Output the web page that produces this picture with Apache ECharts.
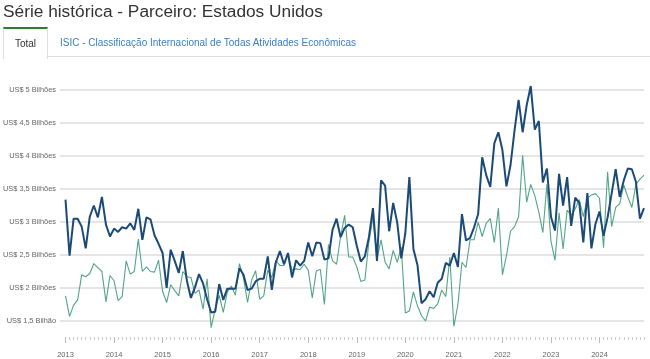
<!DOCTYPE html>
<html>
<head>
<meta charset="utf-8">
<script src="https://cdn.jsdelivr.net/npm/echarts@6/dist/echarts.min.js"></script>
<style>
  html, body { margin: 0; padding: 0; background: #fff; }
  body { width: 650px; height: 359px; overflow: hidden; position: relative; font-family: "Liberation Sans", Arial, sans-serif; }
  #chart { position: absolute; left: 0; top: 0; width: 650px; height: 359px; }
  #title { position: absolute; left: 3px; top: 0px; font-size: 17.3px; line-height: 22px; color: #333; white-space: nowrap; }
  #tabline { position: absolute; left: 3px; right: 0; top: 56px; height: 0; border-top: 1px solid #ddd; }
  #tab1 { position: absolute; left: 3px; top: 27px; width: 43px; border-top: 2px solid #2e7d32; border-left: 1px solid #ddd; border-right: 1px solid #ddd; background: #fff; z-index: 2; font-size: 10px; color: #333; text-align: center; line-height: 30px; height: 30px; }
  #tab2 { position: absolute; left: 60px; top: 29px; font-size: 10px; line-height: 28px; color: #3a7fc1; white-space: nowrap; }
</style>
</head>
<body>
<div id="chart"></div>
<div id="title">Série histórica - Parceiro: Estados Unidos</div>
<div id="tabline"></div>
<div id="tab1">Total</div>
<div id="tab2">ISIC - Classificação Internacional de Todas Atividades Econômicas</div>
<script>
// Monthly values, Jan 2013 .. Dec 2024 (US$ bilhões)
const months = [];
for (let y = 2013; y <= 2024; y++) for (let m = 1; m <= 12; m++) months.push(y + '-' + String(m).padStart(2, '0'));

const importacoes = [
  3.34, 2.49, 3.05, 3.05, 2.93, 2.60, 3.08, 3.25, 3.07, 3.38, 2.96, 2.78,
  2.90, 2.85, 2.92, 2.90, 2.98, 2.88, 3.20, 2.73, 3.07, 3.04, 2.80, 2.67,
  2.53, 2.00, 2.58, 2.41, 2.23, 2.56, 2.11, 1.85, 2.01, 2.21, 2.07, 1.83,
  1.63, 1.64, 2.06, 1.82, 1.99, 1.99, 1.99, 2.30, 2.20, 1.97, 1.99, 2.10,
  2.14, 2.14, 2.48, 1.97, 2.39, 2.56, 2.36, 2.53, 2.16, 2.42, 2.34, 2.41,
  2.69, 2.48, 2.69, 2.68, 2.43, 2.45, 2.88, 3.05, 2.77, 2.91, 2.96, 2.92,
  2.64, 2.40, 2.48, 2.77, 3.21, 2.41, 3.63, 3.55, 2.86, 3.29, 2.99, 2.45,
  2.83, 3.68, 2.59, 2.35, 1.77, 1.83, 1.95, 1.86, 2.08, 2.14, 2.38, 2.34,
  2.53, 2.32, 3.12, 2.72, 2.76, 2.92, 3.12, 3.98, 3.71, 3.53, 4.19, 4.36,
  4.09, 3.54, 3.86, 4.39, 4.85, 4.36, 4.77, 5.06, 4.40, 4.53, 3.60, 3.81,
  3.08, 2.87, 3.73, 3.25, 3.68, 2.94, 3.37, 3.29, 2.69, 3.44, 2.60, 2.97,
  3.16, 2.79, 3.07, 3.43, 3.80, 3.38, 3.63, 3.81, 3.80, 3.61, 3.05, 3.21
];
const exportacoes = [
  1.88, 1.57, 1.74, 1.82, 2.20, 2.17, 2.22, 2.37, 2.31, 2.25, 1.79, 2.19,
  2.11, 1.81, 1.87, 2.41, 2.21, 2.25, 2.74, 2.25, 2.32, 2.25, 2.24, 2.42,
  1.95, 1.78, 2.05, 1.96, 1.88, 2.25, 2.17, 2.16, 1.92, 1.97, 1.68, 2.14,
  1.40, 1.68, 1.89, 1.63, 1.94, 2.03, 1.89, 2.37, 2.15, 1.78, 2.12, 2.26,
  1.83, 1.88, 2.27, 2.16, 2.42, 2.34, 2.34, 2.51, 2.27, 2.29, 2.28, 2.36,
  2.27, 1.85, 2.26, 2.28, 1.75, 2.66, 2.41, 2.36, 2.78, 3.10, 2.47, 2.47,
  2.32, 2.10, 2.12, 2.70, 3.07, 2.44, 2.73, 2.39, 2.29, 2.57, 2.39, 2.62,
  1.62, 1.65, 1.94, 1.73, 1.58, 1.50, 1.71, 1.69, 1.76, 1.97, 1.87, 2.47,
  1.42, 1.75, 2.39, 2.31, 2.73, 2.73, 3.00, 2.78, 2.98, 3.05, 2.69, 3.21,
  2.20, 2.49, 2.86, 2.93, 3.08, 4.01, 3.30, 3.57, 3.40, 3.15, 2.84, 3.57,
  2.71, 2.42, 3.14, 2.59, 3.18, 3.10, 3.20, 3.34, 3.08, 3.36, 3.41, 3.43,
  3.36, 2.61, 3.76, 2.93, 3.22, 3.28, 3.56, 3.38, 3.22, 3.57, 3.65, 3.71
];
const yTicks = [1.5, 2, 2.5, 3, 3.5, 4, 4.5, 5];

const toPairs = arr => arr.map((v, i) => [i, v]);
const yLabel = v => 'US$ ' + String(v).replace('.', ',') + (v < 2 ? ' Bilhão' : ' Bilhões');

const chart = echarts.init(document.getElementById('chart'), null, { renderer: 'canvas' });
chart.setOption({
  animation: false,
  grid: [
    { left: 60, right: 6, top: 90, bottom: 38 },
    { left: 65.5, right: 6, top: 336, height: 1 }
  ],
  xAxis: [
    { type: 'value', gridIndex: 0, min: -1.36, max: months.length - 1, show: false },
    { type: 'category', gridIndex: 1, data: months, boundaryGap: false, position: 'bottom',
      axisLine: { show: false }, axisLabel: { show: false },
      axisTick: { show: true, length: 3, interval: 0, lineStyle: { color: '#ccc', width: 1 } } },
    { type: 'category', gridIndex: 1, data: months, boundaryGap: false, position: 'bottom',
      axisLine: { show: false },
      axisTick: { show: true, length: 6, interval: (i) => i % 12 === 0, lineStyle: { color: '#bbb', width: 1 } },
      axisLabel: { show: true, interval: (i) => i % 12 === 0, formatter: v => v.slice(0, 4),
        fontSize: 7.5, color: '#666', margin: 14, fontFamily: 'Liberation Sans, Arial' } }
  ],
  yAxis: [
    { type: 'value', gridIndex: 0, min: yTicks[0], max: yTicks[yTicks.length - 1], interval: 0.5,
      axisLine: { show: false }, axisTick: { show: false },
      axisLabel: { formatter: yLabel, fontSize: 7.4, color: '#666', margin: 4, fontFamily: 'Liberation Sans, Arial' },
      splitLine: { lineStyle: { color: '#ddd', width: 1.5 } } },
    { type: 'value', gridIndex: 1, show: false, min: 0, max: 1 }
  ],
  series: [
    { name: 'Exportações', type: 'line', xAxisIndex: 0, yAxisIndex: 0, data: toPairs(exportacoes),
      showSymbol: false, clip: false, lineStyle: { color: '#52a585', width: 1.1 }, itemStyle: { color: '#52a585' } },
    { name: 'Importações', type: 'line', xAxisIndex: 0, yAxisIndex: 0, data: toPairs(importacoes),
      showSymbol: false, clip: false, lineStyle: { color: '#1b4a78', width: 2 }, itemStyle: { color: '#1b4a78' } }
  ]
});
</script>
</body>
</html>
